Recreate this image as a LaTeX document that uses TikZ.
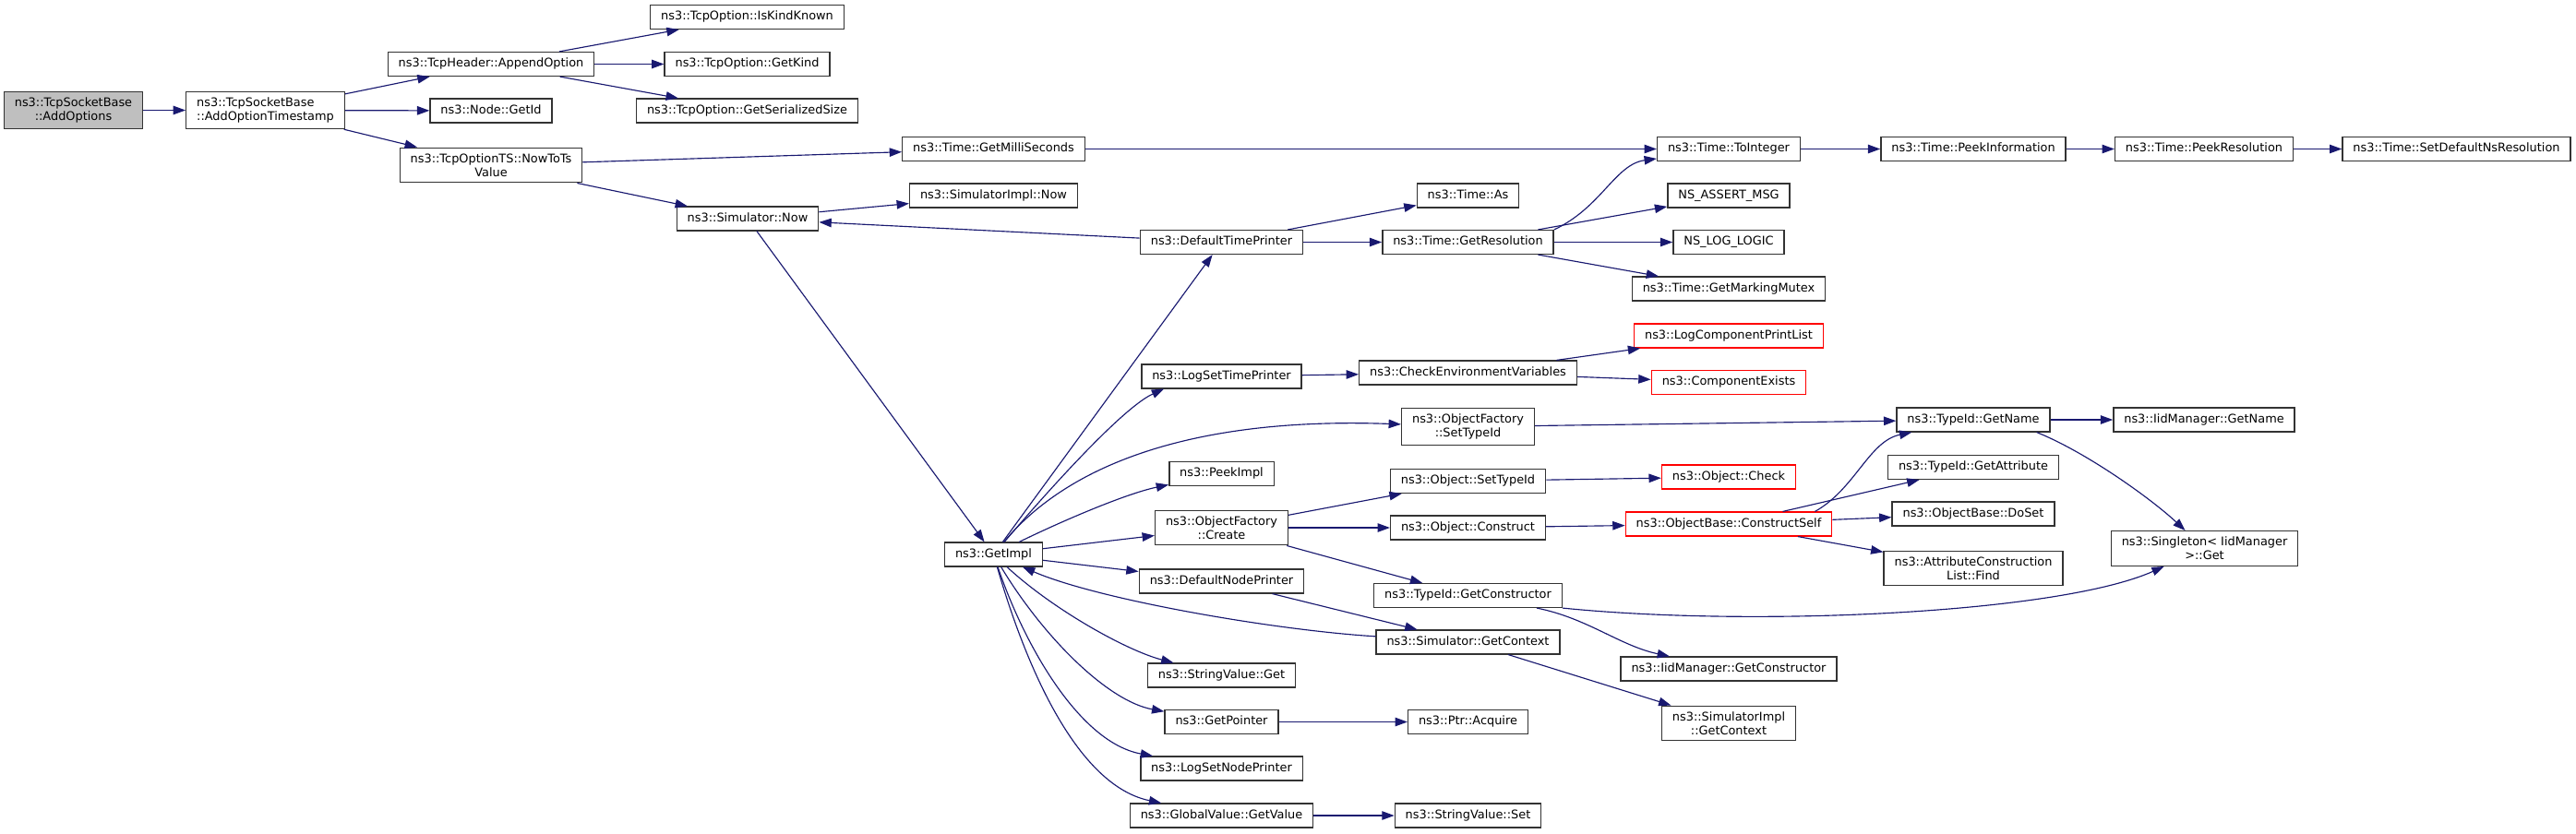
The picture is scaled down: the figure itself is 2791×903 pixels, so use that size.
\documentclass[tikz,border=0pt]{standalone}
\usepackage{fontspec}
\setmainfont{DejaVu Sans}
\usetikzlibrary{arrows.meta,calc}
\definecolor{linkc}{HTML}{191970}
\definecolor{framec}{HTML}{333333}
\definecolor{rootc}{HTML}{BFBFBF}
\definecolor{truncc}{HTML}{FF0000}

\begin{document}
\begin{tikzpicture}[x=.02cm,y=-.02cm,
  func/.style={draw=framec,line width=.8pt,fill=white,inner xsep=6.5pt,inner ysep=3.65pt,minimum height=14.5pt,font=\fontsize{7.34}{8.4}\selectfont},
  func1/.style={func,text height=5.6pt,text depth=1.75pt},
  func2/.style={func,align=center},
  redbox/.style={draw=truncc},
  calls/.style={-{Triangle[length=7.6pt,width=5.4pt]},linkc,line width=.65pt}]
\useasboundingbox (0,0) rectangle (2791,903);
% first columns
\node[func2,fill=rootc] (addopt) at (79.5,119.5){ns3::TcpSocketBase\\::AddOptions};
\node[func2,align=left] (addts) at (287.5,119.5){ns3::TcpSocketBase\\::AddOptionTimestamp};
\node[func1] (append) at (532,69.5){ns3::TcpHeader::AppendOption};
\node[func1] (getid) at (532,120){ns3::Node::GetId};
\node[func2] (nowts) at (532,179){ns3::TcpOptionTS::NowToTs\\Value};
\node[func1] (kindknown) at (809.5,18.5){ns3::TcpOption::IsKindKnown};
\node[func1] (getkind) at (809.5,69.5){ns3::TcpOption::GetKind};
\node[func1] (sersize) at (809.5,120){ns3::TcpOption::GetSerializedSize};
\node[func1] (simnow) at (810,237){ns3::Simulator::Now};
\node[func1] (millis) at (1076.5,161.5){ns3::Time::GetMilliSeconds};
\node[func1] (implnow) at (1076.5,212){ns3::SimulatorImpl::Now};
\node[func1] (getimpl) at (1076.5,601){ns3::GetImpl};
% callees of GetImpl
\node[func1] (dtp) at (1323.5,262.5){ns3::DefaultTimePrinter};
\node[func1] (lstp) at (1323.5,408){ns3::LogSetTimePrinter};
\node[func1] (peekimpl) at (1323.5,513.5){ns3::PeekImpl};
\node[func2] (ofcreate) at (1323.5,572){ns3::ObjectFactory\\::Create};
\node[func1] (dnp) at (1323.5,630){ns3::DefaultNodePrinter};
\node[func1] (svget) at (1323.5,732){ns3::StringValue::Get};
\node[func1] (getptr) at (1323.5,782.5){ns3::GetPointer};
\node[func1] (lsnp) at (1323.5,833){ns3::LogSetNodePrinter};
\node[func1] (gvget) at (1323.5,884){ns3::GlobalValue::GetValue};
\node[func1] (tas) at (1590.5,212){ns3::Time::As};
\node[func1] (getres) at (1590.5,262.5){ns3::Time::GetResolution};
\node[func1] (cev) at (1590.5,404){ns3::CheckEnvironmentVariables};
\node[func2] (ofset) at (1590.5,462.5){ns3::ObjectFactory\\::SetTypeId};
\node[func1] (osettid) at (1590.5,521.5){ns3::Object::SetTypeId};
\node[func1] (oconstr) at (1590.5,572){ns3::Object::Construct};
\node[func1] (getctor) at (1590.5,645.5){ns3::TypeId::GetConstructor};
\node[func1] (simctx) at (1590.5,696){ns3::Simulator::GetContext};
\node[func1] (acquire) at (1590.5,782.5){ns3::Ptr::Acquire};
\node[func1] (svset) at (1590.5,884){ns3::StringValue::Set};
\node[func1] (toint) at (1873,161.5){ns3::Time::ToInteger};
\node[func1] (assert) at (1873,212){NS\_ASSERT\_MSG};
\node[func1] (loglogic) at (1873,262.5){NS\_LOG\_LOGIC};
\node[func1] (mutex) at (1873,313){ns3::Time::GetMarkingMutex};
\node[func1,redbox] (lcpl) at (1873,364){ns3::LogComponentPrintList};
\node[func1,redbox] (compex) at (1873,414.5){ns3::ComponentExists};
\node[func1,redbox] (ocheck) at (1873,517){ns3::Object::Check};
\node[func1,redbox] (cself) at (1873,568){ns3::ObjectBase::ConstructSelf};
\node[func1] (iidctor) at (1873,725){ns3::IidManager::GetConstructor};
\node[func2] (implctx) at (1873,784){ns3::SimulatorImpl\\::GetContext};
\node[func1] (peekinfo) at (2138,161.5){ns3::Time::PeekInformation};
\node[func1] (tidname) at (2138,455){ns3::TypeId::GetName};
\node[func1] (tidattr) at (2138,506.5){ns3::TypeId::GetAttribute};
\node[func1] (doset) at (2138,557){ns3::ObjectBase::DoSet};
\node[func2] (aclfind) at (2138,616){ns3::AttributeConstruction\\List::Find};
\node[func1] (peekres) at (2388,161.5){ns3::Time::PeekResolution};
\node[func1] (iidname) at (2388,455){ns3::IidManager::GetName};
\node[func2] (single) at (2388.5,594.5){ns3::Singleton< IidManager\\>::Get};
\node[func1] (setdef) at (2661.5,161.5){ns3::Time::SetDefaultNsResolution};
% calls
\draw[calls] (addopt)--(addts);
\draw[calls] (addts)--(append);\draw[calls] (addts)--(getid);\draw[calls] (addts)--(nowts);
\draw[calls] (append)--(kindknown);\draw[calls] (append)--(getkind);\draw[calls] (append)--(sersize);
\draw[calls] (nowts)--(millis);\draw[calls] (nowts)--(simnow);
\draw[calls] (simnow)--(implnow);\draw[calls] (simnow)--(getimpl);
\draw[calls] (millis)--(toint);
\draw[calls] (toint)--(peekinfo);\draw[calls] (peekinfo)--(peekres);\draw[calls] (peekres)--(setdef);
\draw[calls] (dtp)--(simnow);\draw[calls] (dtp)--(tas);\draw[calls] (dtp)--(getres);
\draw[calls] (getres.north east) .. controls (1735,225) and (1750,178) .. (toint);
\draw[calls] (getres)--(assert);\draw[calls] (getres)--(loglogic);\draw[calls] (getres)--(mutex);
\draw[calls] (lstp)--(cev);\draw[calls] (cev)--(lcpl);\draw[calls] (cev)--(compex);
\draw[calls] (getimpl)--(dtp);
\draw[calls] (getimpl) .. controls (1150,515) and (1220,440) .. ($(lstp.south west)+(25,0)$);
\draw[calls] (getimpl) .. controls (1160,500) and (1300,452) .. (ofset);
\draw[calls] (getimpl) .. controls (1150,565) and (1220,535) .. (peekimpl);
\draw[calls] (getimpl)--(ofcreate);\draw[calls] (getimpl)--(dnp);
\draw[calls] (getimpl) .. controls (1140,660) and (1220,705) .. (svget);
\draw[calls] (getimpl) .. controls (1130,690) and (1200,760) .. (getptr);
\draw[calls] (getimpl) .. controls (1110,700) and (1170,805) .. (lsnp);
\draw[calls] (getimpl) .. controls (1105,700) and (1160,850) .. (gvget);
\draw[calls] (simctx) .. controls (1380,683) and (1190,650) .. (getimpl);
\draw[calls] (dnp)--(simctx);\draw[calls] (simctx)--(implctx);
\draw[calls] (ofcreate)--(osettid);\draw[calls] (ofcreate)--(oconstr);\draw[calls] (ofcreate)--(getctor);
\draw[calls] (ofset)--(tidname);
\draw[calls] (osettid)--(ocheck);\draw[calls] (oconstr)--(cself);
\draw[calls] ($(cself.north east)+(-19,0)$) .. controls (2010,530) and (2025,478) .. (tidname);
\draw[calls] (cself)--(tidattr);\draw[calls] (cself)--(doset);\draw[calls] (cself)--(aclfind);
\draw[calls] (tidname)--(iidname);
\draw[calls] ($(tidname.south east)+(-15,0)$) .. controls (2260,490) and (2330,540) .. (single);
\draw[calls] ($(getctor.south east)+(-28,0)$) .. controls (1720,670) and (1755,700) .. (iidctor);
\draw[calls] (getctor.south east) .. controls (1900,680) and (2230,665) .. (single);
\draw[calls] (getptr)--(acquire);\draw[calls] (gvget)--(svset);
\end{tikzpicture}
\end{document}
